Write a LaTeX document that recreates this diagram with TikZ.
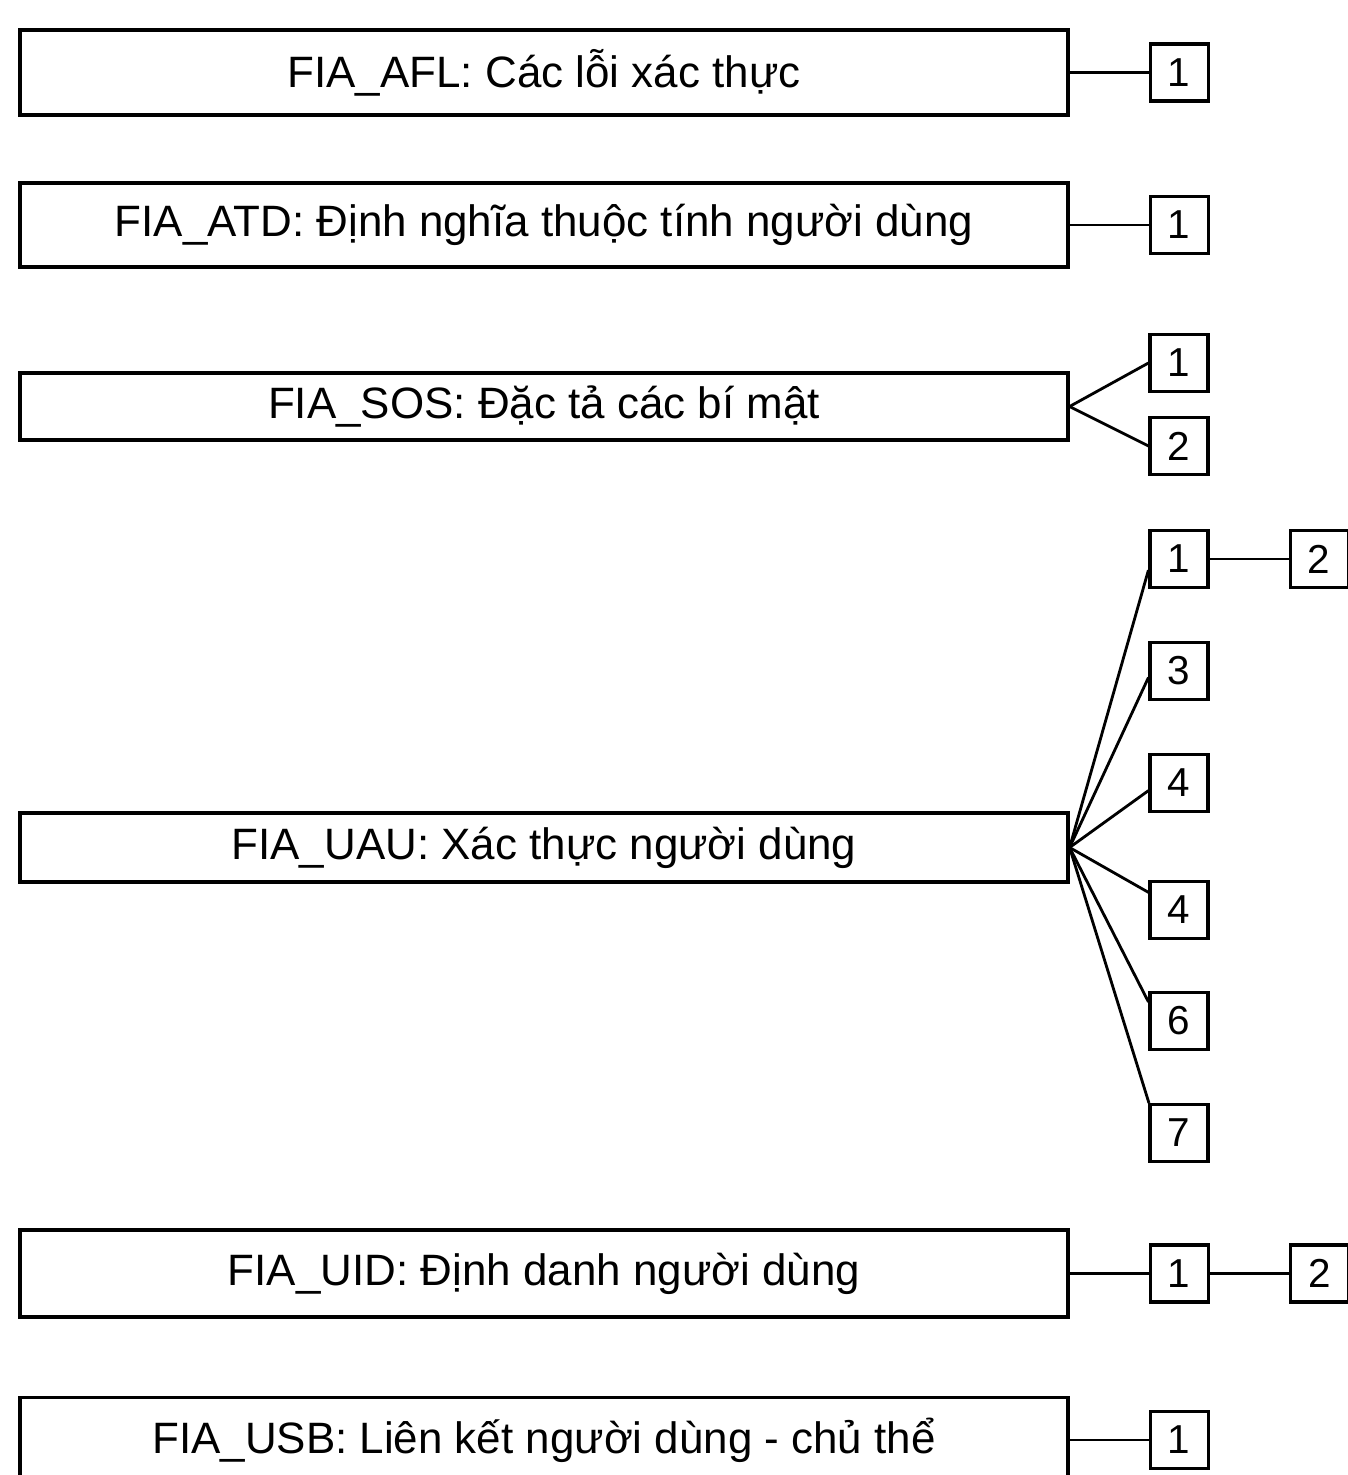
\documentclass[tikz,border=0pt]{standalone}
\usepackage{fontspec}
\setmainfont{Liberation Sans}
\usetikzlibrary{positioning}

\begin{document}
\begin{tikzpicture}[
    lop/.style={draw, line width=0.9pt, minimum width=10.48cm, inner sep=0pt,
        font=\fontsize{12.5}{14}\selectfont},
    so/.style={draw, line width=0.9pt, minimum width=0.58cm, minimum height=0.57cm,
        inner sep=0pt, font=\fontsize{11.5}{13}\selectfont},
    noi/.style={line width=0.8pt},
    node distance=0.79cm
]

    % khung hình
    \useasboundingbox (0,0) rectangle (13.48,-14.75);

    % 1. Các hộp họ chính
    \node[lop, minimum height=0.85cm] (afl) at (5.44,-0.725) {FIA\_AFL: Các lỗi xác thực};
    \node[lop, minimum height=0.84cm] (atd) at (5.44,-2.25) {FIA\_ATD: Định nghĩa thuộc tính người dùng};
    \node[lop, minimum height=0.67cm] (sos) at (5.44,-4.065) {FIA\_SOS: Đặc tả các bí mật};
    \node[lop, minimum height=0.69cm] (uau) at (5.44,-8.475) {FIA\_UAU: Xác thực người dùng};
    \node[lop, minimum height=0.87cm] (uid) at (5.44,-12.735) {FIA\_UID: Định danh người dùng};
    \node[lop, minimum height=0.85cm] (usb) at (5.44,-14.40) {FIA\_USB: Liên kết người dùng - chủ thể};

    % 2. Các hộp thành phần
    \node[so, right=of afl] (afl1) {1};
    \node[so, right=of atd] (atd1) {1};
    \node[so] (sos1) at (11.79,-3.63) {1};
    \node[so] (sos2) at (11.79,-4.46) {2};
    \node[so] (uau1) at (11.79,-5.59) {1};
    \node[so, right=of uau1] (uau2) {2};
    \node[so] (uau3) at (11.79,-6.71) {3};
    \node[so] (uau4a) at (11.79,-7.83) {4};
    \node[so] (uau4b) at (11.79,-9.10) {4};
    \node[so] (uau6) at (11.79,-10.21) {6};
    \node[so] (uau7) at (11.79,-11.33) {7};
    \node[so, right=of uid] (uid1) {1};
    \node[so, right=of uid1] (uid2) {2};
    \node[so, right=of usb] (usb1) {1};

    % 3. Các đường nối
    \draw[noi] (afl) -- (afl1);
    \draw[noi] (atd) -- (atd1);
    \draw[noi] (sos.east) -- (sos1.west);
    \draw[noi] (sos.east) -- (sos2.west);
    \foreach \n/\g in {1/200, 3/192, 4a/194, 4b/150, 6/148, 7/135} {
        \draw[noi] (uau.east) -- (uau\n.\g);
    }
    \draw[noi] (uau1) -- (uau2);
    \draw[noi] (uid) -- (uid1);
    \draw[noi] (uid1) -- (uid2);
    \draw[noi] (usb) -- (usb1);

\end{tikzpicture}
\end{document}
